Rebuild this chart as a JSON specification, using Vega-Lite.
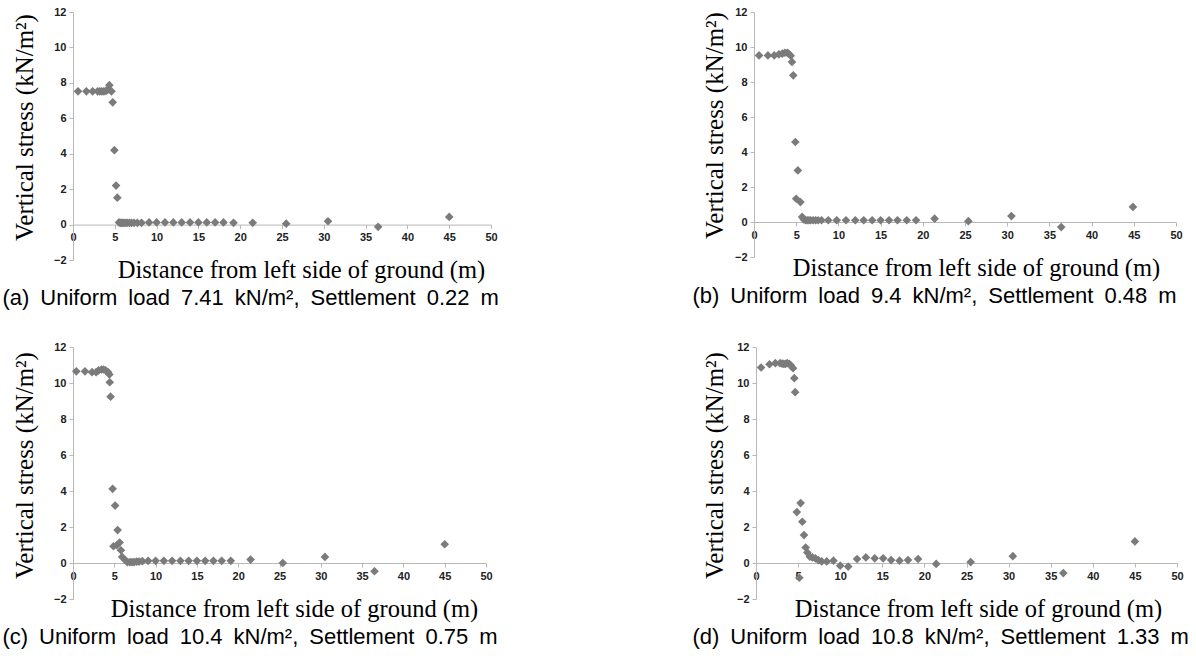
{
  "$schema": "https://vega.github.io/schema/vega-lite/v6.json",
  "background": "white",
  "padding": {"left": 2, "top": 6, "right": 5, "bottom": 5},
  "datasets": {
    "pts": [
      {"p":"a","x":0.6,"y":7.52},{"p":"a","x":1.6,"y":7.52},{"p":"a","x":2.35,"y":7.52},{"p":"a","x":2.95,"y":7.52},{"p":"a","x":3.2,"y":7.52},{"p":"a","x":3.45,"y":7.52},{"p":"a","x":3.7,"y":7.52},{"p":"a","x":3.95,"y":7.55},{"p":"a","x":4.15,"y":7.6},{"p":"a","x":4.35,"y":7.87},{"p":"a","x":4.6,"y":7.52},{"p":"a","x":4.75,"y":6.9},{"p":"a","x":4.95,"y":4.2},{"p":"a","x":5.15,"y":2.2},{"p":"a","x":5.3,"y":1.52},{"p":"a","x":5.5,"y":0.12},{"p":"a","x":5.65,"y":0.1},{"p":"a","x":5.8,"y":0.1},{"p":"a","x":5.95,"y":0.1},{"p":"a","x":6.1,"y":0.1},{"p":"a","x":6.3,"y":0.1},{"p":"a","x":6.5,"y":0.1},{"p":"a","x":6.75,"y":0.1},{"p":"a","x":7.0,"y":0.1},{"p":"a","x":7.3,"y":0.1},{"p":"a","x":7.7,"y":0.1},{"p":"a","x":8.2,"y":0.1},{"p":"a","x":9.1,"y":0.12},{"p":"a","x":10.0,"y":0.12},{"p":"a","x":11.0,"y":0.12},{"p":"a","x":12.0,"y":0.12},{"p":"a","x":13.0,"y":0.12},{"p":"a","x":14.0,"y":0.12},{"p":"a","x":15.0,"y":0.12},{"p":"a","x":16.0,"y":0.12},{"p":"a","x":17.0,"y":0.12},{"p":"a","x":18.0,"y":0.12},{"p":"a","x":19.2,"y":0.1},{"p":"a","x":21.5,"y":0.1},{"p":"a","x":25.5,"y":0.05},{"p":"a","x":30.5,"y":0.19},{"p":"a","x":36.5,"y":-0.13},{"p":"a","x":45,"y":0.43},
      {"p":"b","x":0.6,"y":9.52},{"p":"b","x":1.65,"y":9.52},{"p":"b","x":2.4,"y":9.52},{"p":"b","x":2.95,"y":9.58},{"p":"b","x":3.35,"y":9.62},{"p":"b","x":3.65,"y":9.67},{"p":"b","x":3.95,"y":9.67},{"p":"b","x":4.1,"y":9.62},{"p":"b","x":4.35,"y":9.5},{"p":"b","x":4.5,"y":9.15},{"p":"b","x":4.65,"y":8.38},{"p":"b","x":4.9,"y":4.57},{"p":"b","x":5.2,"y":2.95},{"p":"b","x":5.0,"y":1.33},{"p":"b","x":5.5,"y":1.14},{"p":"b","x":5.7,"y":0.29},{"p":"b","x":5.9,"y":0.15},{"p":"b","x":6.1,"y":0.1},{"p":"b","x":6.3,"y":0.1},{"p":"b","x":6.5,"y":0.1},{"p":"b","x":6.7,"y":0.1},{"p":"b","x":7.0,"y":0.1},{"p":"b","x":7.3,"y":0.1},{"p":"b","x":7.6,"y":0.1},{"p":"b","x":8.0,"y":0.1},{"p":"b","x":8.8,"y":0.1},{"p":"b","x":9.8,"y":0.1},{"p":"b","x":10.9,"y":0.1},{"p":"b","x":12.0,"y":0.1},{"p":"b","x":13.0,"y":0.1},{"p":"b","x":14.0,"y":0.1},{"p":"b","x":15.0,"y":0.1},{"p":"b","x":16.0,"y":0.1},{"p":"b","x":17.0,"y":0.1},{"p":"b","x":18.1,"y":0.1},{"p":"b","x":19.2,"y":0.1},{"p":"b","x":21.4,"y":0.19},{"p":"b","x":25.4,"y":0.05},{"p":"b","x":30.5,"y":0.34},{"p":"b","x":36.4,"y":-0.29},{"p":"b","x":44.9,"y":0.86},
      {"p":"c","x":0.4,"y":10.65},{"p":"c","x":1.45,"y":10.65},{"p":"c","x":2.3,"y":10.6},{"p":"c","x":2.8,"y":10.6},{"p":"c","x":3.1,"y":10.7},{"p":"c","x":3.45,"y":10.75},{"p":"c","x":3.7,"y":10.75},{"p":"c","x":3.95,"y":10.7},{"p":"c","x":4.25,"y":10.6},{"p":"c","x":4.4,"y":10.47},{"p":"c","x":4.45,"y":10.04},{"p":"c","x":4.55,"y":9.24},{"p":"c","x":4.8,"y":4.12},{"p":"c","x":5.1,"y":3.19},{"p":"c","x":5.4,"y":1.83},{"p":"c","x":4.9,"y":0.93},{"p":"c","x":5.3,"y":0.99},{"p":"c","x":5.65,"y":1.14},{"p":"c","x":5.8,"y":0.71},{"p":"c","x":5.95,"y":0.34},{"p":"c","x":6.35,"y":0.15},{"p":"c","x":6.6,"y":0.05},{"p":"c","x":6.9,"y":0.05},{"p":"c","x":7.15,"y":0.05},{"p":"c","x":7.4,"y":0.05},{"p":"c","x":7.7,"y":0.08},{"p":"c","x":8.0,"y":0.08},{"p":"c","x":8.4,"y":0.1},{"p":"c","x":9.1,"y":0.12},{"p":"c","x":10.0,"y":0.12},{"p":"c","x":11.0,"y":0.12},{"p":"c","x":12.0,"y":0.12},{"p":"c","x":13.0,"y":0.12},{"p":"c","x":14.0,"y":0.12},{"p":"c","x":15.0,"y":0.12},{"p":"c","x":16.0,"y":0.12},{"p":"c","x":17.0,"y":0.12},{"p":"c","x":18.0,"y":0.12},{"p":"c","x":19.1,"y":0.12},{"p":"c","x":21.5,"y":0.19},{"p":"c","x":25.4,"y":0.0},{"p":"c","x":30.5,"y":0.34},{"p":"c","x":36.5,"y":-0.46},{"p":"c","x":45,"y":1.04},
      {"p":"d","x":0.6,"y":10.86},{"p":"d","x":1.6,"y":11.04},{"p":"d","x":2.3,"y":11.1},{"p":"d","x":2.85,"y":11.1},{"p":"d","x":3.1,"y":11.08},{"p":"d","x":3.3,"y":11.06},{"p":"d","x":3.5,"y":11.06},{"p":"d","x":3.7,"y":11.1},{"p":"d","x":3.95,"y":11.06},{"p":"d","x":4.15,"y":10.97},{"p":"d","x":4.4,"y":10.82},{"p":"d","x":4.55,"y":10.27},{"p":"d","x":4.65,"y":9.49},{"p":"d","x":4.85,"y":2.83},{"p":"d","x":5.3,"y":3.33},{"p":"d","x":5.5,"y":2.29},{"p":"d","x":5.7,"y":1.55},{"p":"d","x":5.9,"y":0.86},{"p":"d","x":6.1,"y":0.58},{"p":"d","x":6.4,"y":0.35},{"p":"d","x":6.7,"y":0.31},{"p":"d","x":7.05,"y":0.26},{"p":"d","x":7.4,"y":0.16},{"p":"d","x":7.8,"y":0.09},{"p":"d","x":8.4,"y":0.09},{"p":"d","x":9.2,"y":0.13},{"p":"d","x":10.0,"y":-0.15},{"p":"d","x":10.95,"y":-0.2},{"p":"d","x":5.15,"y":-0.82},{"p":"d","x":12.0,"y":0.22},{"p":"d","x":13.05,"y":0.31},{"p":"d","x":14.1,"y":0.26},{"p":"d","x":15.1,"y":0.26},{"p":"d","x":16.05,"y":0.16},{"p":"d","x":17.05,"y":0.13},{"p":"d","x":18.05,"y":0.16},{"p":"d","x":19.25,"y":0.22},{"p":"d","x":21.4,"y":-0.05},{"p":"d","x":25.5,"y":0.05},{"p":"d","x":30.5,"y":0.38},{"p":"d","x":36.5,"y":-0.56},{"p":"d","x":45,"y":1.2}
    ]
  },
  "data": {"name": "pts"},
  "config": {
    "view": {"stroke": null},
    "axis": {
      "grid": false,
      "domainColor": "#b8b8b8",
      "tickColor": "#b8b8b8",
      "tickSize": 4,
      "labelFont": "Liberation Sans",
      "labelFontWeight": "bold",
      "labelFontSize": 11,
      "labelColor": "#222222",
      "labelPadding": 3,
      "labelFlush": false,
      "labelOverlap": false,
      "titleFont": "Liberation Serif",
      "titleFontSize": 24.5,
      "titleFontWeight": "normal",
      "titleColor": "#000000"
    },
    "axisY": {"titleFontSize": 25},
    "title": {"font": "Liberation Sans", "fontSize": 22, "fontWeight": "normal", "color": "#000000", "orient": "bottom", "anchor": "start", "offset": 6, "dx": -10}
  },
  "vconcat": [
    {
      "spacing": 193,
      "hconcat": [
        {
          "width": 418, "height": 248,
          "title": {"text": "(a)\u2002Uniform\u2002load\u20027.41\u2002kN/m²,\u2002Settlement\u20020.22\u2002m"},
          "transform": [{"filter": "datum.p == 'a'"}],
          "mark": {"type": "point", "shape": "diamond", "filled": true, "color": "#7b7b7b", "size": 75, "opacity": 1},
          "encoding": {
            "x": {"field": "x", "type": "quantitative", "scale": {"domain": [0, 50], "nice": false, "zero": false},
                  "axis": {"values": [0,5,10,15,20,25,30,35,40,45,50], "offset": -35.4, "title": "Distance from left side of ground (m)", "titlePadding": 16, "titleX": 228}},
            "y": {"field": "y", "type": "quantitative", "scale": {"domain": [-2, 12], "nice": false},
                  "axis": {"values": [-2,0,2,4,6,8,10,12], "title": "Vertical stress (kN/m²)", "titlePadding": 16, "titleY": 115}}
          }
        },
        {
          "width": 422, "height": 245,
          "title": {"text": "(b)\u2002Uniform\u2002load\u20029.4\u2002kN/m²,\u2002Settlement\u20020.48\u2002m"},
          "transform": [{"filter": "datum.p == 'b'"}],
          "mark": {"type": "point", "shape": "diamond", "filled": true, "color": "#7b7b7b", "size": 75, "opacity": 1},
          "encoding": {
            "x": {"field": "x", "type": "quantitative", "scale": {"domain": [0, 50], "nice": false, "zero": false},
                  "axis": {"values": [0,5,10,15,20,25,30,35,40,45,50], "offset": -35, "title": "Distance from left side of ground (m)", "titlePadding": 16, "titleX": 222}},
            "y": {"field": "y", "type": "quantitative", "scale": {"domain": [-2, 12], "nice": false},
                  "axis": {"values": [-2,0,2,4,6,8,10,12], "title": "Vertical stress (kN/m²)", "titlePadding": 7, "titleY": 113}}
          }
        }
      ]
    },
    {
      "spacing": 194,
      "hconcat": [
        {
          "width": 413, "height": 252,
          "title": {"text": "(c)\u2002Uniform\u2002load\u200210.4\u2002kN/m²,\u2002Settlement\u20020.75\u2002m"},
          "transform": [{"filter": "datum.p == 'c'"}],
          "mark": {"type": "point", "shape": "diamond", "filled": true, "color": "#7b7b7b", "size": 75, "opacity": 1},
          "encoding": {
            "x": {"field": "x", "type": "quantitative", "scale": {"domain": [0, 50], "nice": false, "zero": false},
                  "axis": {"values": [0,5,10,15,20,25,30,35,40,45,50], "offset": -36, "title": "Distance from left side of ground (m)", "titlePadding": 16, "titleX": 221}},
            "y": {"field": "y", "type": "quantitative", "scale": {"domain": [-2, 12], "nice": false},
                  "axis": {"values": [-2,0,2,4,6,8,10,12], "title": "Vertical stress (kN/m²)", "titlePadding": 16, "titleY": 118}}
          }
        },
        {
          "width": 421, "height": 252,
          "title": {"text": "(d)\u2002Uniform\u2002load\u200210.8\u2002kN/m²,\u2002Settlement\u20021.33\u2002m"},
          "transform": [{"filter": "datum.p == 'd'"}],
          "mark": {"type": "point", "shape": "diamond", "filled": true, "color": "#7b7b7b", "size": 75, "opacity": 1},
          "encoding": {
            "x": {"field": "x", "type": "quantitative", "scale": {"domain": [0, 50], "nice": false, "zero": false},
                  "axis": {"values": [0,5,10,15,20,25,30,35,40,45,50], "offset": -36, "title": "Distance from left side of ground (m)", "titlePadding": 16, "titleX": 222}},
            "y": {"field": "y", "type": "quantitative", "scale": {"domain": [-2, 12], "nice": false},
                  "axis": {"values": [-2,0,2,4,6,8,10,12], "title": "Vertical stress (kN/m²)", "titlePadding": 9, "titleY": 118}}
          }
        }
      ]
    }
  ],
  "spacing": 31
}
